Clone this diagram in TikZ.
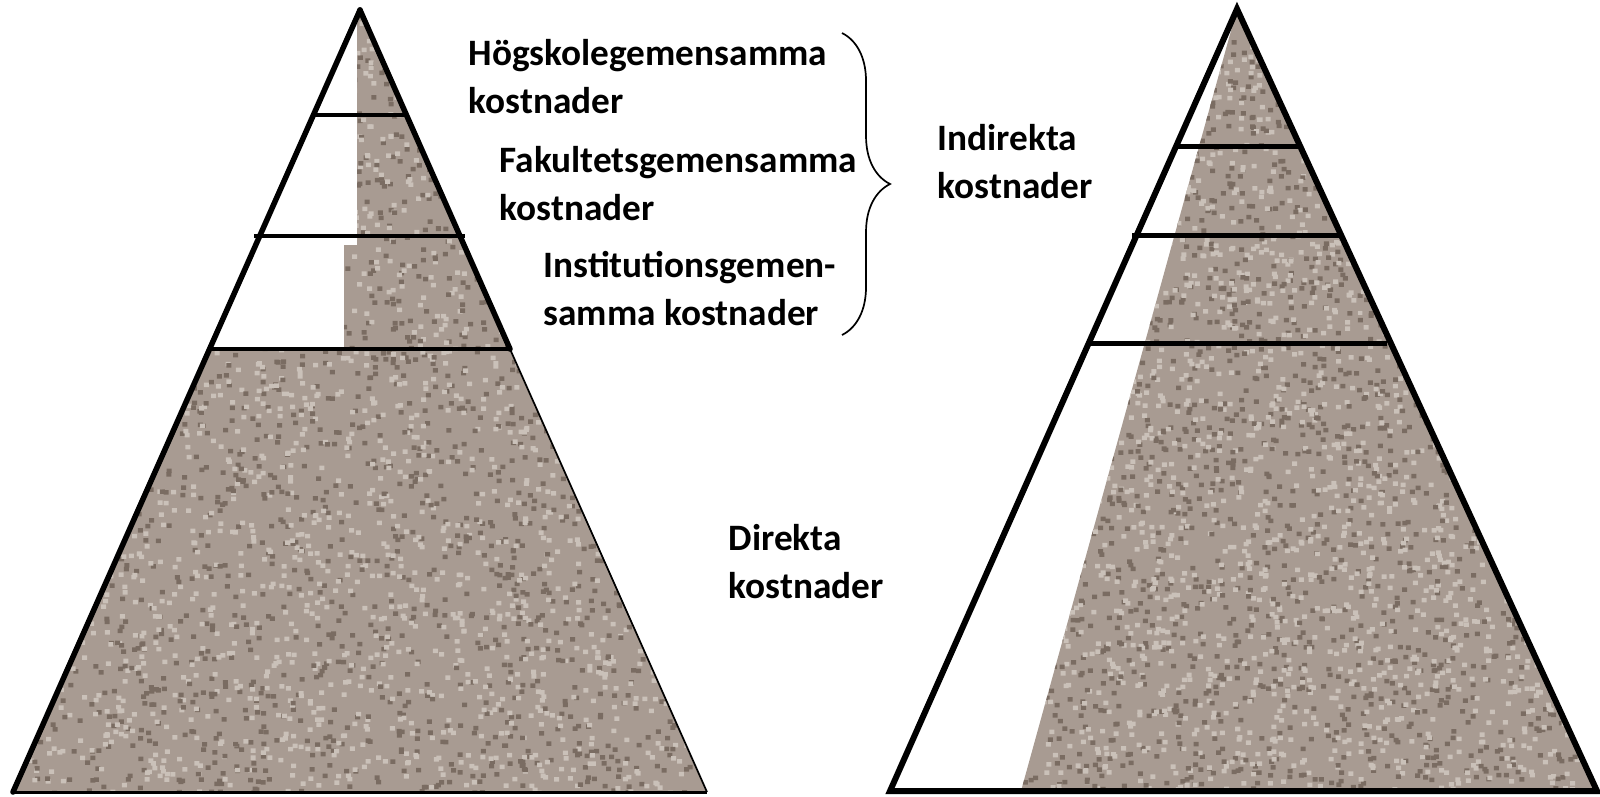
\documentclass[tikz,border=0pt]{standalone}
\usepackage{fontspec}
\setmainfont{Carlito}
\usetikzlibrary{decorations.pathreplacing}

\definecolor{granite}{RGB}{168,155,146}
\definecolor{graniteDark}{RGB}{122,108,98}
\definecolor{graniteLight}{RGB}{202,193,185}

\tikzset{
  lbl/.style={font=\fontsize{10.6}{13.5}\selectfont\bfseries, align=left, anchor=base west, inner sep=0pt},
  edge/.style={line width=0.055cm, line cap=round},
  thinedge/.style={line width=0.017cm},
}

% speckled stone fill inside the current clip: #1,#2 = x range, #3,#4 = y range
\newcommand{\speckle}[4]{%
  \fill[granite] (#1,#3) rectangle (#2,#4);
  \foreach \k in {1,2} {
    \fill[graniteDark] \foreach \i in {1,...,1200} {
      ({#1+rnd*(#2-#1)},{#3+rnd*(#4-#3)}) rectangle ++(5,4.5)
    };
    \fill[graniteLight] \foreach \i in {1,...,1200} {
      ({#1+rnd*(#2-#1)},{#3+rnd*(#4-#3)}) rectangle ++(5,4.5)
    };
  }
}

\begin{document}
\begin{tikzpicture}[x=0.01cm, y=-0.01cm]
  \pgfmathsetseed{7}
  \useasboundingbox (0,0) rectangle (1600,796);

  % Left pyramid
  \coordinate (lA) at (360,10);
  \coordinate (lL) at (13,792);
  \coordinate (lR) at (707,792);
  \coordinate (lK) at (510,349);
  \begin{scope}
    \clip (lA) -- (lL) -- (lR) -- cycle;
    \clip (357,0) rectangle (800,245) (344,245) rectangle (800,349) (0,349) rectangle (800,800);
    \speckle{0}{720}{0}{800}
  \end{scope}
  \draw[edge] (lA) -- (lL);
  \draw[edge] (lA) -- (lK);
  \draw[thinedge] (lK) -- (lR);
  \draw[line width=0.03cm] (lL) -- (lR);
  \draw[line width=0.035cm] (315,115) -- (405,115);
  \draw[line width=0.045cm] (254,236) -- (465,236);
  \draw[line width=0.04cm] (208,349) -- (512,349);

  % Right pyramid
  \coordinate (rA) at (1237,9);
  \coordinate (rL) at (890,791);
  \coordinate (rR) at (1597,791);
  \coordinate (rS) at (1021,791);
  \begin{scope}
    \clip (rA) -- (rS) -- (rR) -- cycle;
    \speckle{1010}{1600}{0}{800}
  \end{scope}
  \draw[edge, line width=0.06cm] (rA) -- (rL) -- (rR) -- cycle;
  \draw[line width=0.05cm] (1177,146) -- (1298,146);
  \draw[line width=0.05cm] (1132,235) -- (1340,235);
  \draw[line width=0.05cm] (1087,343) -- (1387,343);

  % Labels (anchored at the baseline of their last line)
  \node[lbl] (hog) at (468,113) {Högskolegemensamma\\kostnader};
  \node[lbl] (fak) at (499,220) {Fakultetsgemensamma\\kostnader};
  \node[lbl] (inst) at (543,325) {Institutionsgemen-\\samma kostnader};
  \node[lbl] (indir) at (937,198) {Indirekta\\kostnader};
  \node[lbl] (dir) at (728,598) {Direkta\\kostnader};

  % Brace round the indirect costs
  \coordinate (brTop) at (842,33);
  \coordinate (brBot) at (842,335);
  \draw[thinedge, decorate, decoration={brace, amplitude=0.48cm}] (brTop) -- (brBot);
\end{tikzpicture}
\end{document}
